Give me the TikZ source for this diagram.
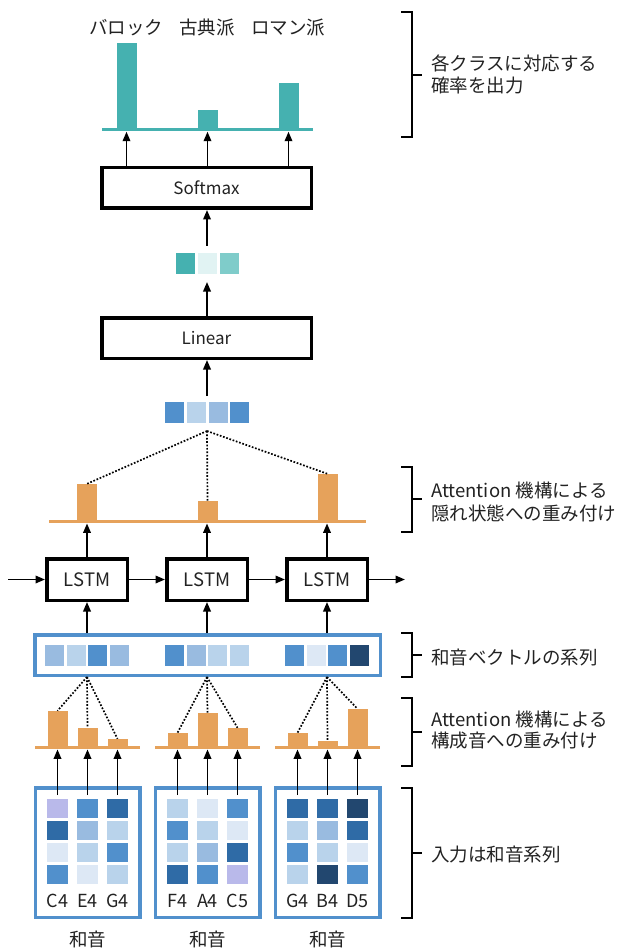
\documentclass[tikz,border=0pt]{standalone}
\usepackage{fontspec}
\setmainfont{Noto Sans CJK JP}
\usetikzlibrary{arrows.meta}
\definecolor{c1}{HTML}{DDE8F5}
\definecolor{c2}{HTML}{B9D3EB}
\definecolor{c3}{HTML}{99BBE0}
\definecolor{c4}{HTML}{5190CC}
\definecolor{c5}{HTML}{2F6BA6}
\definecolor{c6}{HTML}{22476F}
\definecolor{lav}{HTML}{B9B9EA}
\definecolor{tealA}{HTML}{45B1B0}
\definecolor{tealB}{HTML}{E1F3F3}
\definecolor{tealC}{HTML}{7FCCCA}
\definecolor{orng}{HTML}{E6A25B}
\definecolor{bbord}{HTML}{5190CC}
\definecolor{txt}{HTML}{222222}
\newcommand{\rbrk}[3]{%
  \draw[brk] (401,#1) -- (411.5,#1) -- (411.5,#2) -- (401,#2);
  \draw[brk] (411.5,#3) -- (421.5,#3);}
\begin{document}
\begin{tikzpicture}[x=1pt,y=-1pt,
  arr/.style={line width=1.9pt, -{Triangle[length=9.5pt,width=7.5pt]}},
  dots/.style={line width=1.7pt, dash pattern=on 1.7pt off 1.7pt},
  brk/.style={line width=2pt, line cap=butt},
  lab/.style={font=\fontsize{18.5}{22}\selectfont, text=txt, inner sep=0pt},
  nlab/.style={font=\fontsize{18}{20}\selectfont, text=txt, inner sep=0pt},
  blk/.style={draw=black, line width=3.5pt, fill=white, inner sep=0pt, minimum width=209.5pt, minimum height=40.5pt, font=\fontsize{17}{20}\selectfont, text=txt},
  lstmbox/.style={blk, minimum width=80.5pt, minimum height=41.5pt, font=\fontsize{18.5}{20}\selectfont},
  bbox/.style={draw=bbord, line width=3.5pt, inner sep=0pt},
  csq/.style={minimum width=19pt, minimum height=21pt, inner sep=0pt, draw=none},
  isq/.style={minimum width=21.5pt, minimum height=19pt, inner sep=0pt, draw=none},
  tbar/.style={fill=tealA, minimum width=20pt, inner sep=0pt, anchor=south},
  obar/.style={fill=orng, minimum width=20pt, inner sep=0pt, anchor=south},
  tline/.style={fill=tealA, minimum height=3pt, inner sep=0pt},
  oline/.style={fill=orng, minimum height=3pt, inner sep=0pt},
]
\useasboundingbox (0,0) rectangle (620,949);

% ---- output probabilities
\node[lab] (l1) at (126,28) {バロック};
\node[lab] (l2) at (207,28) {古典派};
\node[lab] (l3) at (288,28) {ロマン派};
\node[tbar, minimum height=85.5pt] (tb1) at (126.5,128.5) {};
\node[tbar, minimum height=18.5pt] (tb2) at (207.5,128.5) {};
\node[tbar, minimum height=45.5pt] (tb3) at (288.5,128.5) {};
\node[tline, minimum width=211pt] (tbase) at (207.5,130) {};

% ---- softmax
\node[blk] (softmax) at (206.5,188) {Softmax};
\foreach \b in {tb1,tb2,tb3}{\draw[arr] (softmax.north -| \b) -- (\b |- tbase.south);}

% ---- teal vector
\node[csq, fill=tealA] (tv1) at (185.5,263.5) {};
\node[csq, fill=tealB] (tv2) at (207.3,263.5) {};
\node[csq, fill=tealC] (tv3) at (229.1,263.5) {};
\coordinate (tvtop) at (207,246);
\coordinate (tvbot) at (207,282);
\draw[arr] (tvtop) -- (tvtop |- softmax.south);

% ---- linear
\node[blk] (linear) at (206.5,338) {Linear};
\draw[arr] (linear.north -| tvbot) -- (tvbot);

% ---- hidden vector
\foreach \col [count=\i from 0] in {c4,c2,c3,c4}{\node[csq, fill=\col] (hv\i) at ({174.8+21.7*\i},412.5) {};}
\coordinate (hvtop) at (207,396);
\coordinate (hvbot) at (207,431);
\draw[arr] (hvtop) -- (hvtop |- linear.south);

% ---- attention over hidden states
\node[obar, minimum height=36pt] (hb1) at (87,520.2) {};
\node[obar, minimum height=19pt] (hb2) at (207.5,520.2) {};
\node[obar, minimum height=46pt] (hb3) at (327.5,520.2) {};
\node[oline, minimum width=317pt] (hbase) at (207.5,521.7) {};
\draw[dots] (hvbot) -- (hb1.north);
\draw[dots] (hvbot) -- (hb2.north);
\draw[dots] (hvbot) -- (hb3.north);

% ---- LSTM
\node[lstmbox] (lstm1) at (87,579.5) {LSTM};
\node[lstmbox] (lstm2) at (207,579.5) {LSTM};
\node[lstmbox] (lstm3) at (327,579.5) {LSTM};
\coordinate (hin) at (8,579.5);
\coordinate (hout) at (405,579.5);
\draw[arr] (hin) -- (lstm1.west);
\draw[arr] (lstm1.east) -- (lstm2.west);
\draw[arr] (lstm2.east) -- (lstm3.west);
\draw[arr] (lstm3.east) -- (hout);
\foreach \l in {lstm1,lstm2,lstm3}{\draw[arr] (\l.north) -- (\l.north |- hbase.south);}

% ---- chord vectors
\node[bbox, minimum width=345.5pt, minimum height=40.5pt] (chords) at (207.5,655) {};
\foreach \col [count=\i from 0] in {c3,c2,c4,c3}{\node[csq, fill=\col] (cva\i) at ({54.7+21.6*\i},655) {};}
\foreach \col [count=\i from 0] in {c4,c3,c2,c2}{\node[csq, fill=\col] (cvb\i) at ({174.5+21.6*\i},655) {};}
\foreach \col [count=\i from 0] in {c4,c1,c4,c6}{\node[csq, fill=\col] (cvc\i) at ({294.5+21.6*\i},655) {};}
\foreach \l in {lstm1,lstm2,lstm3}{\draw[arr] (chords.north -| \l) -- (\l.south);}

% ---- attention over constituent notes
\node[obar, minimum height=35pt] (ga1) at (57.5,746.2) {};
\node[obar, minimum height=18pt] (ga2) at (87.5,746.2) {};
\node[obar, minimum height=7pt] (ga3) at (117.5,746.2) {};
\node[oline, minimum width=105pt] (gabase) at (87.5,747.7) {};
\node[obar, minimum height=13pt] (gb1) at (177.5,746.2) {};
\node[obar, minimum height=33pt] (gb2) at (207.5,746.2) {};
\node[obar, minimum height=18pt] (gb3) at (237.5,746.2) {};
\node[oline, minimum width=105pt] (gbbase) at (207.5,747.7) {};
\node[obar, minimum height=13pt] (gc1) at (297.5,746.2) {};
\node[obar, minimum height=5pt] (gc2) at (327.5,746.2) {};
\node[obar, minimum height=37pt] (gc3) at (357.5,746.2) {};
\node[oline, minimum width=105pt] (gcbase) at (327.5,747.7) {};
\foreach \b in {ga1,ga2,ga3}{\draw[dots] (chords.south -| lstm1) -- (\b.north);}
\foreach \b in {gb1,gb2,gb3}{\draw[dots] (chords.south -| lstm2) -- (\b.north);}
\foreach \b in {gc1,gc2,gc3}{\draw[dots] (chords.south -| lstm3) -- (\b.north);}

% ---- input chords
\node[bbox, minimum width=104.5pt, minimum height=129.5pt] (ib1) at (87.5,852.5) {};
\node[bbox, minimum width=104.5pt, minimum height=129.5pt] (ib2) at (207.5,852.5) {};
\node[bbox, minimum width=104.5pt, minimum height=129.5pt] (ib3) at (327.5,852.5) {};
\foreach \col [count=\i from 0] in {lav,c4,c5, c5,c3,c2, c1,c2,c4, c4,c1,c2}{%
  \pgfmathtruncatemacro\r{int(\i/3)}\pgfmathtruncatemacro\c{mod(\i,3)}%
  \node[isq, fill=\col] (a\r\c) at ({57.5+30*\c},{808.8+21.8*\r}) {};}
\foreach \col [count=\i from 0] in {c2,c1,c4, c4,c2,c1, c2,c3,c5, c5,c4,lav}{%
  \pgfmathtruncatemacro\r{int(\i/3)}\pgfmathtruncatemacro\c{mod(\i,3)}%
  \node[isq, fill=\col] (b\r\c) at ({177.5+30*\c},{808.8+21.8*\r}) {};}
\foreach \col [count=\i from 0] in {c5,c5,c6, c2,c3,c5, c4,c2,c1, c2,c6,c4}{%
  \pgfmathtruncatemacro\r{int(\i/3)}\pgfmathtruncatemacro\c{mod(\i,3)}%
  \node[isq, fill=\col] (c\r\c) at ({297.5+30*\c},{808.8+21.8*\r}) {};}
\foreach \s in {a,b,c}{\foreach \c in {0,1,2}{%
  \draw[arr] ([yshift=4pt]\s0\c.north) -- (\s0\c.north |- gabase.south);}}
\node[nlab] (n1) at (57.5,901) {C4};
\node[nlab] (n2) at (87.5,901) {E4};
\node[nlab] (n3) at (117.5,901) {G4};
\node[nlab] (n4) at (177.5,901) {F4};
\node[nlab] (n5) at (207.5,901) {A4};
\node[nlab] (n6) at (237.5,901) {C5};
\node[nlab] (n7) at (297.5,901) {G4};
\node[nlab] (n8) at (327.5,901) {B4};
\node[nlab] (n9) at (357.5,901) {D5};
\node[lab] (w1) at (87.5,939) {和音};
\node[lab] (w2) at (207.5,939) {和音};
\node[lab] (w3) at (327.5,939) {和音};

% ---- right-hand braces and notes
\rbrk{12}{137}{75}
\node[lab, anchor=west] (r1a) at (431,63) {各クラスに対応する};
\node[lab, anchor=west] (r1b) at (431,86) {確率を出力};
\rbrk{467}{532}{499}
\node[lab, anchor=west] (r2a) at (431,490) {Attention 機構による};
\node[lab, anchor=west] (r2b) at (431,513) {隠れ状態への重み付け};
\rbrk{633}{677}{655}
\node[lab, anchor=west] (r3) at (431,657) {和音ベクトルの系列};
\rbrk{698}{766}{732}
\node[lab, anchor=west] (r4a) at (431,719) {Attention 機構による};
\node[lab, anchor=west] (r4b) at (431,741) {構成音への重み付け};
\rbrk{788}{918}{853}
\node[lab, anchor=west] (r5) at (431,854) {入力は和音系列};
\end{tikzpicture}
\end{document}
